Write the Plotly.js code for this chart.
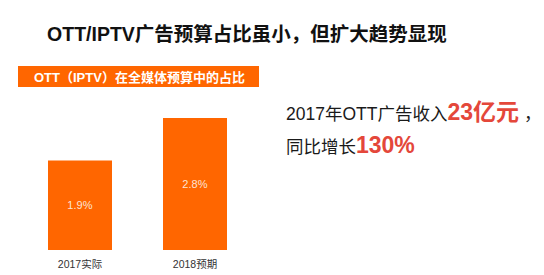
<!DOCTYPE html>
<html>
<head>
<meta charset="utf-8">
<script src="https://cdn.plot.ly/plotly-3.0.1.min.js"></script>
<style>
  html, body { margin: 0; padding: 0; background: #fff; }
  #chart { width: 544px; height: 275px; }
</style>
</head>
<body>
<div id="chart"></div>
<script>
// Share of OTT (IPTV) in total media ad budget
const categories = ['2017实际', '2018预期'];
const shareValues = [1.9, 2.8];

const headline = 'OTT/IPTV广告预算占比虽小，但扩大趋势显现';
const bannerText = 'OTT（IPTV）在全媒体预算中的占比';
const revenueYear = '2017年OTT广告收入';
const revenueValue = '23亿元';
const growthLabel = '同比增长';
const growthValue = '130%';

const ORANGE = '#ff6600';
const RED = '#e4473a';
const FONT = 'Liberation Sans, Arial, "Noto Sans CJK SC", sans-serif';

// plot area spans full width; bars sit at x=80 and x=195 px
const W = 544, PLOT_H = 250;
const pxPerCat = 115;
const x0 = -80 / pxPerCat;
const xRange = [x0, x0 + W / pxPerCat];
const yMax = PLOT_H / 47.1;

const px = v => v / W;
const py = v => 1 - v / PLOT_H;

const trace = {
  type: 'bar',
  x: categories,
  y: shareValues,
  width: 64 / pxPerCat,
  marker: { color: ORANGE },
  texttemplate: '%{y:.1f}%',
  textposition: 'inside',
  insidetextanchor: 'middle',
  textfont: { color: '#fde3d2', size: 11, family: FONT },
  hoverinfo: 'skip'
};

const layout = {
  width: 544,
  height: 275,
  margin: { l: 0, r: 0, t: 0, b: 25 },
  paper_bgcolor: '#ffffff',
  plot_bgcolor: '#ffffff',
  showlegend: false,
  title: {
    text: '<b>' + headline + '</b>',
    x: 247 / W, xanchor: 'center', xref: 'paper',
    y: 1 - 34 / 275, yanchor: 'middle', yref: 'container',
    font: { family: FONT, size: 19.5, color: '#111111' }
  },
  xaxis: {
    type: 'category',
    range: xRange,
    showgrid: false, zeroline: false, showline: false, ticks: '',
    ticklabelstandoff: 6,
    tickfont: { family: FONT, size: 10.5, color: '#333333' },
    fixedrange: true
  },
  yaxis: {
    range: [0, yMax],
    visible: false,
    fixedrange: true
  },
  shapes: [{
    type: 'rect', xref: 'paper', yref: 'paper',
    x0: px(18), x1: px(259), y0: py(87), y1: py(66),
    fillcolor: ORANGE, line: { width: 0 }, layer: 'below'
  }],
  annotations: [
    {
      text: '<b>' + bannerText + '</b>',
      xref: 'paper', yref: 'paper',
      x: px(139), y: py(77), xanchor: 'center', yanchor: 'middle',
      showarrow: false,
      font: { family: FONT, size: 13, color: '#ffffff' }
    },
    {
      text: revenueYear + '<span style="color:' + RED + ';font-size:23px"><b>' + revenueValue + '</b></span> ，',
      xref: 'paper', yref: 'paper',
      x: px(284), y: py(112), xanchor: 'left', yanchor: 'middle',
      showarrow: false,
      font: { family: FONT, size: 17.5, color: '#1a1a1a' }
    },
    {
      text: growthLabel + '<span style="color:' + RED + ';font-size:23px"><b>' + growthValue + '</b></span>',
      xref: 'paper', yref: 'paper',
      x: px(284), y: py(145), xanchor: 'left', yanchor: 'middle',
      showarrow: false,
      font: { family: FONT, size: 17.5, color: '#1a1a1a' }
    }
  ]
};

Plotly.newPlot('chart', [trace], layout, { displayModeBar: false, staticPlot: true });
</script>
</body>
</html>
